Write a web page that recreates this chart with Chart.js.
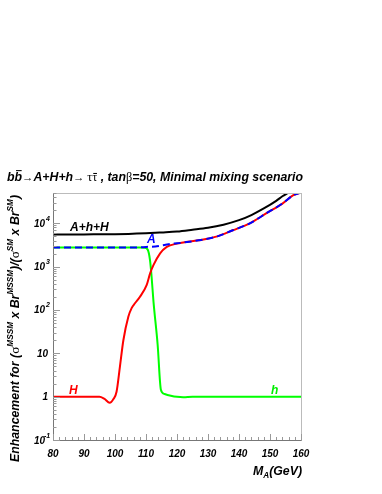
<!DOCTYPE html>
<html>
<head>
<meta charset="utf-8">
<script src="https://cdn.jsdelivr.net/npm/chart.js@4/dist/chart.umd.min.js"></script>
<style>
    html, body { margin: 0; padding: 0; background: #fff; }
    #wrap { width: 382px; height: 494px; position: relative; }
</style>
</head>
<body>
<div id="wrap"><canvas id="chart"></canvas></div>
<script>
// M_A points (GeV) and enhancement factors
const massSum = [80, 90, 100, 110, 115, 120, 125, 130, 135, 140, 144, 148, 152, 154, 155.8];
const ratioSum = [5500, 5550, 5600, 5900, 6150, 6450, 7100, 7900, 9300, 11800, 15500, 22000, 33000, 42000, 50000];

const massA = [80, 90, 100, 108, 110, 113, 116, 118, 120, 122, 127, 133, 138, 143.5, 149, 154, 157.4, 159.5];
const ratioA = [2760, 2760, 2760, 2780, 2850, 2900, 3150, 3350, 3450, 3600, 4050, 5000, 6900, 10000, 17300, 28500, 44000, 50000];

const massH = [80, 95, 96.5, 98.3, 99.5, 100.5, 101.6, 102.7, 104.3, 105.4, 106.5, 108, 110.2, 111.3, 112.4, 114.5, 116.7, 120, 122, 127, 133, 138, 143.5, 149, 154, 157.4, 159.5];
const ratioH = [1, 1, 0.9, 0.72, 0.88, 1.3, 5, 20, 70, 112, 145, 200, 375, 690, 1080, 2000, 2850, 3400, 3600, 4050, 5000, 6900, 10000, 17300, 28500, 44000, 50000];

const massh = [80, 100, 108, 109.5, 110.5, 111.3, 111.8, 112.4, 113.75, 114.8, 116, 118, 120, 122, 125, 140, 160];
const ratioh = [2760, 2760, 2760, 2720, 2500, 1400, 590, 160, 16, 1.45, 1.15, 1.05, 0.99, 0.97, 1.0, 1.0, 1.0];

const xTicks = [80, 90, 100, 110, 120, 130, 140, 150, 160];
const yTicks = [0.1, 1, 10, 100, 1000, 10000];
const yTickBase = ['10', '1', '10', '10', '10', '10'];
const yTickExp = ['-1', '', '', '2', '3', '4'];

const toPoints = (xs, ys) => xs.map((m, i) => ({ x: m, y: ys[i] }));

const BI = size => `italic bold ${size}px "Liberation Sans", Arial, sans-serif`;
const SYM = size => `${size}px "Liberation Serif", "DejaVu Serif", serif`;

// draws a row of text pieces, scaled so the whole row has the given width
const drawRuns = (ctx, runs, width) => {
    let total = 0;
    runs.forEach(r => {
        ctx.font = r.font;
        r.w = ctx.measureText(r.text).width;
        total += r.w;
    });
    const s = width ? width / total : 1;
    ctx.save();
    ctx.scale(s, s);
    let x = 0;
    runs.forEach(r => {
        ctx.font = r.font;
        ctx.fillStyle = r.color || '#000';
        ctx.fillText(r.text, x, r.dy || 0);
        if (r.bar !== undefined) {
            ctx.fillRect(x + r.w * 0.2, r.bar, r.w * 0.75, 1.1);
        }
        x += r.w;
    });
    ctx.restore();
};

const decor = {
    id: 'decor',
    afterDraw(chart) {
        const { ctx, chartArea: a, scales: { x, y } } = chart;
        ctx.save();

        // frame
        ctx.lineWidth = 1;
        ctx.strokeStyle = '#bbb';
        ctx.strokeRect(a.left + 0.5, a.top + 0.5, a.right - a.left, a.bottom - a.top);
        ctx.strokeStyle = '#777';
        ctx.beginPath();
        ctx.moveTo(a.left + 0.5, a.top);
        ctx.lineTo(a.left + 0.5, a.bottom + 0.5);
        ctx.lineTo(a.right + 0.5, a.bottom + 0.5);
        ctx.stroke();

        // x ticks
        ctx.strokeStyle = '#999';
        ctx.beginPath();
        for (let m = 80; m <= 160; m += 2) {
            const px = Math.round(x.getPixelForValue(m)) + 0.5;
            const len = m % 10 === 0 ? 6 : 3;
            ctx.moveTo(px, a.bottom);
            ctx.lineTo(px, a.bottom - len);
        }
        // y ticks
        for (let d = 0.1; d < 60000; d *= 10) {
            for (let k = 1; k <= 9; k++) {
                const v = d * k;
                if (v > 50000) break;
                const py = Math.round(y.getPixelForValue(v)) + 0.5;
                const len = k === 1 ? 7 : 3.5;
                ctx.moveTo(a.left, py);
                ctx.lineTo(a.left + len, py);
            }
        }
        ctx.stroke();

        // tick labels
        ctx.fillStyle = '#000';
        ctx.textAlign = 'center';
        ctx.font = BI(10);
        xTicks.forEach(m => ctx.fillText(String(m), x.getPixelForValue(m), 457));

        yTicks.forEach((v, i) => {
            const py = y.getPixelForValue(v) + 3.5;
            ctx.font = BI(10);
            if (yTickExp[i]) {
                ctx.textAlign = 'right';
                ctx.fillText(yTickBase[i], 45, py);
                ctx.textAlign = 'left';
                ctx.font = BI(7);
                ctx.fillText(yTickExp[i], yTickExp[i].length > 1 ? 44 : 46, py - 6);
            } else {
                ctx.textAlign = 'right';
                ctx.fillText(yTickBase[i], 48, py);
            }
        });
        ctx.textAlign = 'left';

        // title
        ctx.save();
        ctx.translate(7, 181);
        drawRuns(ctx, [
            { text: 'b', font: BI(13) },
            { text: 'b', font: BI(13), bar: -11.5 },
            { text: '\u2192', font: SYM(12) },
            { text: 'A+H+h', font: BI(13) },
            { text: '\u2192 ', font: SYM(12) },
            { text: '\u03c4', font: SYM(13) },
            { text: '\u03c4', font: SYM(13), bar: -8.5 },
            { text: ' , tan', font: BI(13) },
            { text: '\u03b2', font: SYM(13) },
            { text: '=50, Minimal mixing scenario', font: BI(13) }
        ], 296);
        ctx.restore();

        // y axis title
        const sup = t => ({ text: t, font: BI(8), dy: -6 });
        ctx.save();
        ctx.translate(19, 462);
        ctx.rotate(-Math.PI / 2);
        drawRuns(ctx, [
            { text: 'Enhancement for (', font: BI(12) },
            { text: '\u03c3', font: SYM(13) },
            sup('MSSM'),
            { text: ' x Br', font: BI(12) },
            sup('MSSM'),
            { text: ')/(', font: BI(12) },
            { text: '\u03c3', font: SYM(13) },
            sup('SM'),
            { text: ' x Br', font: BI(12) },
            sup('SM'),
            { text: ')', font: BI(12) }
        ], 267);
        ctx.restore();

        // x axis title
        ctx.save();
        ctx.translate(253, 475);
        drawRuns(ctx, [
            { text: 'M', font: BI(12) },
            { text: 'A', font: BI(8), dy: 3 },
            { text: '(GeV)', font: BI(12) }
        ], 49);
        ctx.restore();

        // curve labels
        ctx.font = BI(12);
        ctx.fillStyle = '#000';
        ctx.fillText('A+h+H', 70, 231);
        ctx.fillStyle = '#0000ff';
        ctx.fillText('A', 147, 243);
        ctx.fillStyle = '#ff0000';
        ctx.fillText('H', 69, 394);
        ctx.fillStyle = '#00ee00';
        ctx.fillText('h', 271, 394);

        ctx.restore();
    }
};

new Chart(document.getElementById('chart'), {
    type: 'line',
    data: {
        datasets: [
            {
                label: 'A',
                data: toPoints(massA, ratioA),
                borderColor: '#0000ff',
                borderDash: [7, 4],
                borderWidth: 2
            },
            {
                label: 'H',
                data: toPoints(massH, ratioH),
                borderColor: '#ff0000',
                borderWidth: 2
            },
            {
                label: 'h',
                data: toPoints(massh, ratioh),
                borderColor: '#00ff00',
                borderWidth: 2
            },
            {
                label: 'A+h+H',
                data: toPoints(massSum, ratioSum),
                borderColor: '#000000',
                borderWidth: 2
            }
        ]
    },
    options: {
        responsive: true,
        maintainAspectRatio: false,
        animation: false,
        layout: { padding: { left: 53, right: 81, top: 193, bottom: 54 } },
        elements: {
            point: { radius: 0 },
            line: { cubicInterpolationMode: 'monotone', fill: false }
        },
        plugins: {
            legend: { display: false },
            tooltip: { enabled: false },
            title: { display: false }
        },
        scales: {
            x: { type: 'linear', min: 80, max: 160, display: false },
            y: { type: 'logarithmic', min: 0.1, max: 50000, display: false }
        }
    },
    plugins: [decor]
});
</script>
</body>
</html>
